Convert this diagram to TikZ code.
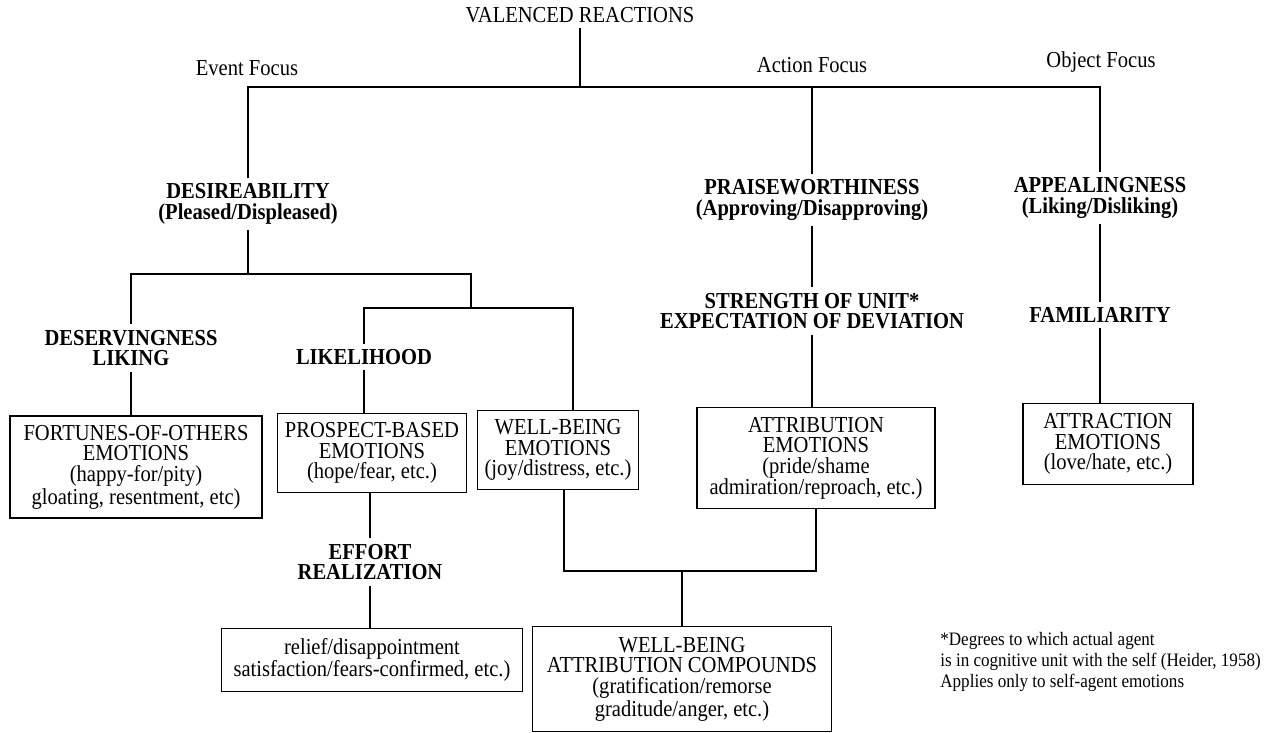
\documentclass[tikz,border=0pt]{standalone}
\usepackage{fontspec}
\setmainfont{Liberation Serif}[FakeStretch=0.9]
\usetikzlibrary{positioning}

\begin{document}
\begin{tikzpicture}
[x=0.02cm, y=-0.02cm,
 plain/.style={inner sep=3pt, font=\fontsize{13}{11.8}\selectfont},
 lbl/.style={align=center, inner xsep=2pt, inner ysep=3pt, font=\fontsize{13}{11.8}\selectfont\bfseries},
 emo/.style={draw, line width=1pt, align=center, inner sep=2pt, font=\fontsize{13}{11.8}\selectfont},
 note/.style={align=left, inner sep=0pt, font=\fontsize{10.8}{12}\selectfont},
 conn/.style={line width=1pt}]

\useasboundingbox (0,0) rectangle (1268,733);

% top of the tree and the three foci
\node[plain] (vr) at (580,15) {VALENCED REACTIONS};
\node[plain] (event) at (247,68) {Event Focus};
\node[plain] (action) at (812,65) {Action Focus};
\node[plain] (object) at (1101,62) {Object Focus};

% appraisal variables
\node[lbl] (desire) at (248,204) {DESIREABILITY\\(Pleased/Displeased)};
\node[lbl] (praise) at (812,200) {PRAISEWORTHINESS\\(Approving/Disapproving)};
\node[lbl] (appeal) at (1100,198) {APPEALINGNESS\\(Liking/Disliking)};
\node[lbl] (deserv) at (131,348) {DESERVINGNESS\\LIKING};
\node[lbl] (likely) at (364,357) {LIKELIHOOD};
\node[lbl] (strength) at (812,311) {STRENGTH OF UNIT*\\EXPECTATION OF DEVIATION};
\node[lbl] (famil) at (1100,315) {FAMILIARITY};
\node[lbl] (effort) at (370,562) {EFFORT\\REALIZATION};

% emotion groups
\node[emo, minimum width=5.04cm, minimum height=2.04cm] (fort) at (136,467)
  {FORTUNES-OF-OTHERS\\EMOTIONS\\(happy-for/pity)\\gloating, resentment, etc)};
\node[emo, minimum width=3.78cm, minimum height=1.58cm] (prosp) at (372,453)
  {PROSPECT-BASED\\EMOTIONS\\(hope/fear, etc.)};
\node[emo, minimum width=3.22cm, minimum height=1.58cm] (wellb) at (558,450)
  {WELL-BEING\\EMOTIONS\\(joy/distress, etc.)};
\node[emo, minimum width=4.76cm, minimum height=2.02cm] (attrib) at (816,458)
  {ATTRIBUTION\\EMOTIONS\\(pride/shame\\admiration/reproach, etc.)};
\node[emo, minimum width=3.4cm, minimum height=1.62cm] (attract) at (1108,444)
  {ATTRACTION\\EMOTIONS\\(love/hate, etc.)};
\node[emo, minimum width=6.02cm, minimum height=1.26cm] (relief) at (372,660)
  {relief/disappointment\\satisfaction/fears-confirmed, etc.)};
\node[emo, minimum width=5.98cm, minimum height=2.1cm] (compound) at (682,679)
  {WELL-BEING\\ATTRIBUTION COMPOUNDS\\(gratification/remorse\\graditude/anger, etc.)};

\node[note, anchor=west] (foot) at (940,662)
  {*Degrees to which actual agent\\is in cognitive unit with the self (Heider, 1958)\\Applies only to self-agent emotions};

% junctions
\coordinate (bar) at (580,87);
\coordinate (ebar) at (248,274);
\coordinate (lbar) at (471,308);
\coordinate (cbar) at (682,571);

\draw[conn] (vr) -- (bar);
\draw[conn] (desire) |- (bar) -| (appeal);
\draw[conn] (praise) -- (praise |- bar);

\draw[conn] (desire) -- (ebar);
\draw[conn] (deserv) |- (ebar) -| (lbar);
\draw[conn] (likely) |- (lbar) -| ([xshift=0.3cm]wellb.north);
\draw[conn] (deserv) -- (deserv |- fort.north);
\draw[conn] (likely) -- (likely |- prosp.north);
\draw[conn] (effort) -- (effort |- prosp.south);
\draw[conn] (effort) -- (effort |- relief.north);

\draw[conn] ([xshift=0.12cm]wellb.south) |- (cbar) -| (attrib);
\draw[conn] (cbar) -- (compound);

\draw[conn] (praise) -- (strength);
\draw[conn] (strength) -- (strength |- attrib.north);
\draw[conn] (appeal) -- (famil);
\draw[conn] (famil) -- (famil |- attract.north);

\end{tikzpicture}
\end{document}
